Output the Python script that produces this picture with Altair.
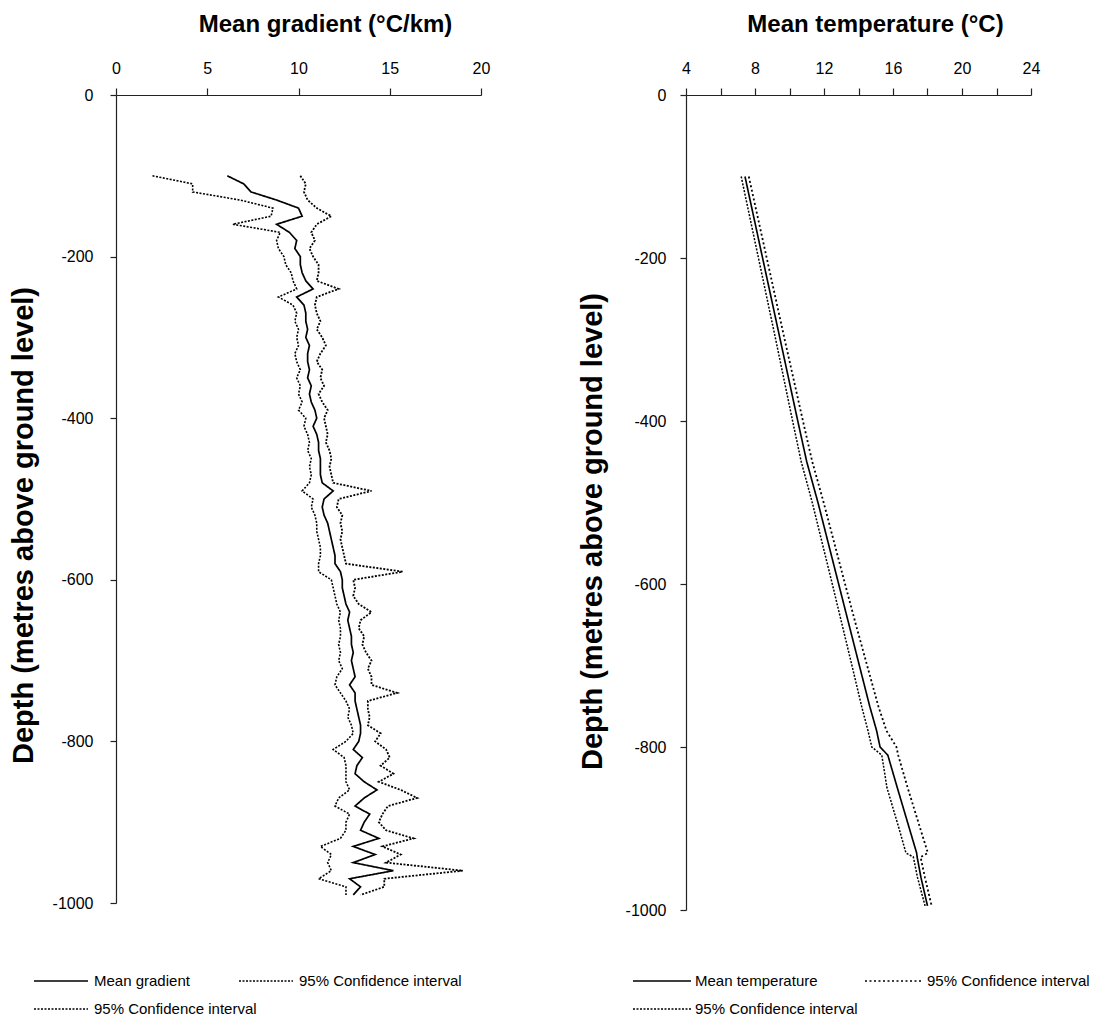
import altair as alt
import pandas as pd

FONT = "Liberation Sans"

# ---------------- Left panel: mean geothermal gradient ----------------
GRAD_DEPTH = [-100, -110, -120, -130, -140, -150, -160, -170, -180, -190,
              -200, -210, -220, -230, -240, -250, -260, -270, -280, -290,
              -300, -310, -320, -330, -340, -350, -360, -370, -380, -390,
              -400, -410, -420, -430, -440, -450, -460, -470, -480, -490,
              -500, -510, -520, -530, -540, -550, -560, -570, -580, -590,
              -600, -610, -620, -630, -640, -650, -660, -670, -680, -690,
              -700, -710, -720, -730, -740, -750, -760, -770, -780, -790,
              -800, -810, -820, -830, -840, -850, -860, -870, -880, -890,
              -900, -910, -920, -930, -940, -950, -960, -970, -980, -990]
GRAD_MEAN = [6.1, 7.0, 7.4, 8.8, 10.0, 10.2, 8.8, 9.5, 9.9, 9.8,
             10.1, 10.1, 10.2, 10.4, 10.8, 9.9, 10.3, 10.4, 10.4, 10.5,
             10.4, 10.6, 10.5, 10.5, 10.6, 10.5, 10.7, 10.6, 10.7, 10.9,
             11.0, 10.8, 11.0, 11.1, 11.1, 11.2, 11.2, 11.2, 11.3, 11.9,
             11.4, 11.3, 11.4, 11.6, 11.7, 11.8, 11.9, 12.0, 12.0, 12.3,
             12.4, 12.4, 12.5, 12.6, 12.8, 12.7, 12.8, 12.9, 12.9, 13.0,
             12.9, 13.0, 13.1, 12.8, 13.1, 13.1, 13.2, 13.3, 13.4, 13.4,
             13.3, 13.0, 13.5, 13.2, 13.1, 13.6, 14.3, 13.6, 13.1, 13.9,
             13.6, 13.4, 14.4, 13.0, 14.2, 13.0, 15.2, 12.8, 13.4, 13.0]
GRAD_UPPER = [10.1, 10.4, 10.3, 10.5, 11.0, 11.8, 11.0, 10.7, 10.9, 10.6,
              10.8, 11.1, 11.1, 11.0, 12.2, 11.0, 10.9, 11.0, 11.2, 11.0,
              11.3, 11.5, 11.2, 11.0, 11.3, 11.2, 11.4, 11.1, 11.3, 11.6,
              11.4, 11.5, 11.6, 11.5, 11.7, 11.8, 11.7, 11.8, 11.9, 14.0,
              12.2, 12.1, 12.4, 12.3, 12.4, 12.3, 12.4, 12.5, 12.6, 15.7,
              13.0, 13.1, 13.0, 13.3, 14.0, 13.4, 13.3, 13.6, 13.5, 13.7,
              14.0, 13.8, 14.0, 14.0, 15.4, 13.8, 13.8, 13.9, 13.8, 14.5,
              14.2, 14.8, 15.0, 14.5, 15.2, 14.4, 15.6, 16.5, 14.9, 14.6,
              14.4, 14.8, 16.3, 14.6, 15.6, 14.8, 19.0, 14.7, 14.7, 13.4]
GRAD_LOWER = [2.0, 4.2, 4.2, 6.8, 8.6, 8.5, 6.4, 9.0, 8.8, 8.9,
              9.2, 9.3, 9.6, 9.7, 9.9, 8.9, 9.7, 9.9, 9.8, 10.0,
              9.9, 10.0, 9.8, 9.9, 10.1, 9.9, 10.1, 10.0, 10.2, 10.0,
              10.4, 10.3, 10.5, 10.6, 10.5, 10.7, 10.6, 10.7, 10.6, 10.2,
              10.8, 10.7, 10.9, 11.0, 11.0, 11.1, 11.2, 11.2, 11.1, 11.1,
              11.8, 11.9, 12.0, 12.1, 12.3, 12.2, 12.3, 12.3, 12.2, 12.3,
              12.2, 12.4, 12.1, 12.0, 12.3, 12.6, 12.8, 12.7, 12.9, 13.0,
              12.6, 11.9, 12.5, 12.6, 12.6, 12.6, 12.8, 12.2, 12.0, 12.8,
              12.6, 12.6, 12.3, 11.2, 11.8, 11.6, 11.8, 11.1, 12.6, 12.6]

# ---------------- Right panel: mean temperature ----------------
TEMP_DEPTH = [-100, -150, -200, -250, -300, -350, -400, -450, -500, -550,
              -600, -650, -700, -750, -780, -800, -810, -850, -900, -930,
              -935, -960, -995]
TEMP_MEAN = [7.42, 7.93, 8.44, 8.95, 9.46, 9.97, 10.48, 11.00, 11.65, 12.25,
             12.85, 13.45, 14.05, 14.65, 15.05, 15.25, 15.70, 16.25, 16.95, 17.37,
             17.40, 17.62, 18.00]
TEMP_UPPER = [7.64, 8.16, 8.68, 9.20, 9.72, 10.25, 10.78, 11.32, 11.98, 12.60,
              13.22, 13.85, 14.50, 15.15, 15.62, 16.20, 16.30, 16.85, 17.58, 18.02,
              17.60, 17.85, 18.24]
TEMP_LOWER = [7.20, 7.70, 8.20, 8.70, 9.20, 9.69, 10.18, 10.68, 11.32, 11.90,
              12.48, 13.05, 13.62, 14.18, 14.55, 14.77, 15.35, 15.65, 16.35, 16.75,
              17.18, 17.42, 17.86]

SERIES = ["mean", "upper", "lower"]
SERIES_W = ["lower", "mean", "upper"]  # different order -> separate legend


def long_df(depths, mean, upper, lower):
    rows = []
    for name, vals in zip(SERIES, [mean, upper, lower]):
        for i, (d, v) in enumerate(zip(depths, vals)):
            rows.append({"depth": d, "value": v, "series": name, "idx": i})
    return pd.DataFrame(rows)


grad_df = long_df(GRAD_DEPTH, GRAD_MEAN, GRAD_UPPER, GRAD_LOWER)
temp_df = long_df(TEMP_DEPTH, TEMP_MEAN, TEMP_UPPER, TEMP_LOWER)

Y_VALUES = [0, -200, -400, -600, -800, -1000]
Y_LABEL_EXPR = "datum.value == 0 ? '0' : '-' + format(-datum.value, 'd')"


def make_panel(df, xdom, xvals, label_expr, xtitle, title_x, title_y, w, h,
               dash_range, width_range, mean_label, legend_x, legend_y,
               sym_size, label_off, col_pad, y_label_pad, y_title_pad, low_dash):
    legend_expr = (f"datum.value == 'mean' ? '{mean_label}' : '95% Confidence interval'")
    common = dict(
        title=None, orient="none", legendX=legend_x, direction="horizontal",
        symbolType="stroke", symbolSize=sym_size, symbolStrokeColor="black",
        labelFont=FONT, labelFontSize=15, labelColor="black",
        labelOffset=label_off, labelLimit=400, labelExpr=legend_expr,
    )
    leg1 = alt.Legend(values=["mean", "upper"], legendY=legend_y,
                      columnPadding=col_pad, symbolStrokeWidth=1.6, **common)
    leg2 = alt.Legend(values=["lower"], legendY=legend_y + 28,
                      symbolDash=low_dash, **common)
    return alt.Chart(df).mark_line(color="black").encode(
        x=alt.X("value:Q",
                scale=alt.Scale(domain=xdom, nice=False, zero=False),
                axis=alt.Axis(orient="top", values=xvals, labelExpr=label_expr,
                              title=xtitle, titleX=title_x, titlePadding=24,
                              titleFontSize=24,
                              labelPadding=12, tickSize=7, labelFlush=False,
                              labelOverlap=False)),
        y=alt.Y("depth:Q",
                scale=alt.Scale(domain=[-1000, 0], nice=False, zero=False),
                axis=alt.Axis(values=Y_VALUES, labelExpr=Y_LABEL_EXPR,
                              title="Depth (metres above ground level)",
                              titleFontSize=29,
                              titleY=title_y, titlePadding=y_title_pad,
                              labelPadding=y_label_pad,
                              tickSize=6, labelFlush=False)),
        strokeDash=alt.StrokeDash("series:N",
                                  scale=alt.Scale(domain=SERIES, range=dash_range),
                                  legend=leg1),
        strokeWidth=alt.StrokeWidth("series:N",
                                    scale=alt.Scale(domain=SERIES_W, range=width_range),
                                    legend=leg2),
        order=alt.Order("idx:Q"),
    ).properties(width=w, height=h)


left = make_panel(
    grad_df, [0, 20], [0, 5, 10, 15, 20], "datum.label",
    "Mean gradient (°C/km)", 209, 430, 365, 808,
    [[1, 0], [2, 1.5], [2, 1.5]], [1.6, 1.8, 1.6],
    "Mean gradient", -83, 858, 2916, 5, 45, 17, 14, [2, 1.5],
)

right = make_panel(
    temp_df, [4, 24], [4, 6, 8, 10, 12, 14, 16, 18, 20, 22, 24],
    "datum.value % 4 == 0 ? datum.label : ''",
    "Mean temperature (°C)", 189, 436, 345, 815,
    [[1, 0], [2, 2.5], [2, 1.5]], [1.5, 1.8, 1.5],
    "Mean temperature", -54, 856, 3364, 3, 43, 14, 18, [2, 1.5],
)

chart = alt.hconcat(left, right, spacing=88).resolve_scale(
    x="independent", y="independent", strokeDash="independent", strokeWidth="independent"
).resolve_legend(strokeDash="independent", strokeWidth="independent").properties(
    padding={"left": 9, "top": 12, "right": 0, "bottom": 0},
    background="white",
).configure_axis(
    grid=False, domainColor="#222", tickColor="#222", domainWidth=1.2, tickWidth=1.2,
    labelFont=FONT, labelFontSize=16, labelColor="black",
    titleFont=FONT, titleFontWeight="bold", titleColor="black",
).configure_view(strokeWidth=0)

chart.save("out.html", embed_options={"renderer": "svg", "actions": False})
